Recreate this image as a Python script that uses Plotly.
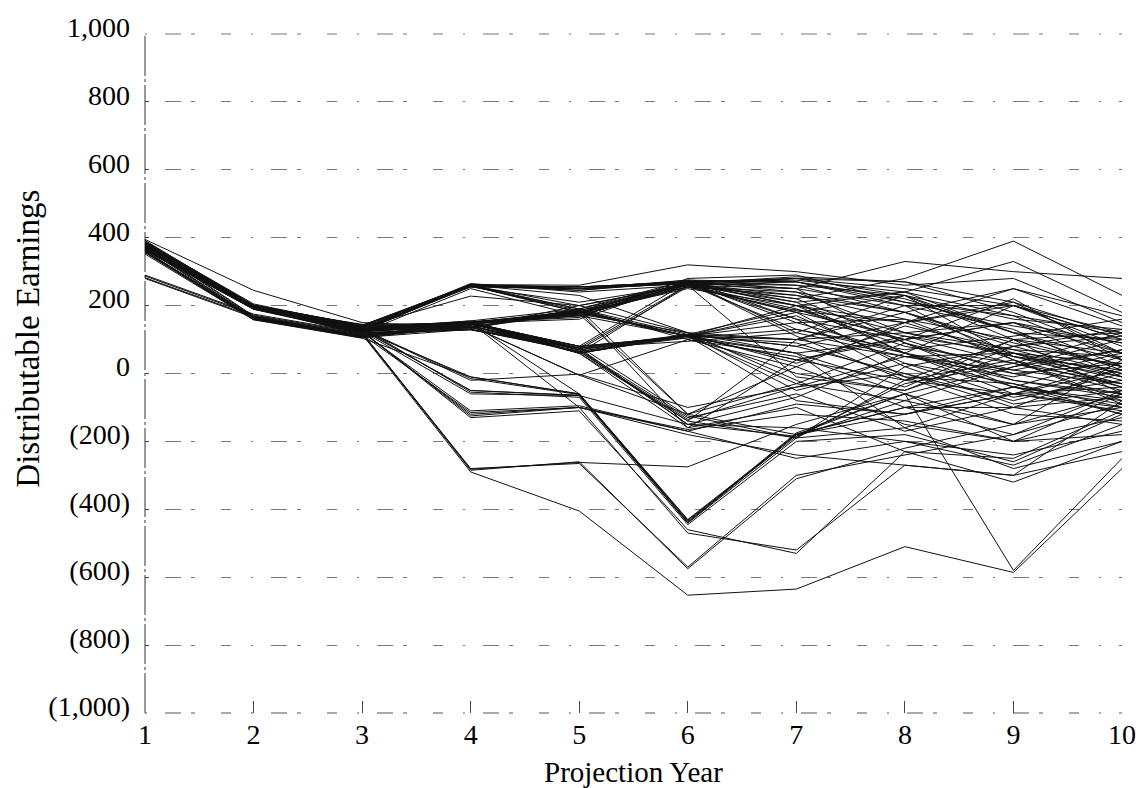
import plotly.graph_objects as go

years = [1, 2, 3, 4, 5, 6, 7, 8, 9, 10]

y_tickvals = [1000, 800, 600, 400, 200, 0, -200, -400, -600, -800, -1000]
y_ticktext = ["1,000", "800", "600", "400", "200", "0", "(200)", "(400)", "(600)", "(800)", "(1,000)"]

s01 = [370, 195, 130, 260, 255, 270, 280, 250, 200, 120]
s02 = [375, 195, 135, 260, 250, 265, 285, 270, 180, 60]
s03 = [380, 200, 140, 262, 245, 275, 260, 230, 120, 40]
s04 = [368, 192, 128, 255, 210, 260, 180, 110, 60, -20]
s05 = [372, 198, 125, 258, 180, 268, 200, 150, 50, 10]
s06 = [385, 200, 120, 250, 170, 110, 40, -20, -60, -100]
s07 = [378, 190, 132, 150, 165, 280, 290, 210, 140, 90]
s08 = [365, 196, 138, 152, 180, 270, 275, 240, 330, 180]
s09 = [370, 194, 145, 148, 185, 110, 180, 230, 100, 20]
s10 = [374, 198, 130, 145, 75, 260, 270, 200, 40, -40]
s11 = [380, 200, 128, 140, 70, 255, 240, 180, 80, 130]
s12 = [366, 193, 134, 155, 60, 115, 80, 150, 200, 100]
s13 = [371, 197, 124, 150, 80, 110, 0, -50, 60, 30]
s14 = [383, 201, 142, 135, 200, 120, 100, 50, -10, 60]
s15 = [287, 172, 118, 132, 190, -120, -180, -100, -40, 50]
s16 = [282, 168, 115, 130, 65, -140, -190, -20, 100, -60]
s17 = [290, 175, 120, 128, 75, -150, -185, -80, -150, -100]
s18 = [395, 245, 150, 135, 185, -160, 40, 100, 150, 20]
s19 = [376, 199, 126, -10, -60, -430, -180, -120, -40, -80]
s20 = [369, 196, 131, -15, -62, -435, -175, -60, -200, -130]
s21 = [373, 195, 128, -50, -65, -440, -190, 20, 80, 0]
s22 = [381, 199, 135, -55, -70, -445, -200, -180, -260, -120]
s23 = [367, 192, 122, -120, -100, -470, -520, -270, -300, -80]
s24 = [372, 194, 125, -130, -110, -460, -530, -230, -320, -200]
s25 = [375, 197, 120, -280, -265, -570, -300, -240, -180, -50]
s26 = [378, 195, 118, -285, -260, -575, -310, -220, -150, 40]
s27 = [370, 193, 115, -290, -405, -653, -635, -510, -586, -280]
s28 = [384, 200, 140, 150, -60, -440, -180, -60, -580, -250]
s29 = [379, 198, 133, 262, 260, 320, 300, 260, 280, 150]
s30 = [377, 199, 137, 228, 200, 262, 130, 60, -40, -90]
s31 = [368, 191, 127, 150, 170, 265, 220, 280, 390, 230]
s32 = [372, 196, 129, 148, 160, 270, 250, 330, 300, 280]
s33 = [381, 198, 141, 260, 180, 110, 100, 180, 250, 170]
s34 = [374, 195, 126, 145, 80, 105, 60, 100, 150, 90]
s35 = [366, 190, 123, 140, -5, 100, 20, -100, -100, 20]
s36 = [370, 194, 130, -20, -2, -100, -40, 50, 10, -30]
s37 = [376, 197, 134, 150, 70, -130, -60, -170, -100, -150]
s38 = [380, 200, 128, 260, 230, 120, -20, -150, -200, -180]
s39 = [368, 192, 124, 140, 60, -160, -100, -230, -250, -110]
s40 = [373, 196, 131, 135, 178, 250, 200, 120, 70, 50]
s41 = [371, 195, 132, 257, 190, 275, 270, 220, 120, 100]
s42 = [369, 193, 129, 152, 172, 255, 185, 150, 210, 110]
s43 = [382, 199, 139, 255, 250, 265, 200, 60, 0, -60]
s44 = [367, 191, 121, 130, 75, 95, 120, 230, 160, 130]
s45 = [375, 197, 133, 265, 240, 260, 280, 270, 210, 60]
s46 = [378, 198, 127, 150, 180, 110, 170, 30, -30, -120]
s47 = [372, 194, 126, 140, 65, 115, 100, 200, 200, 80]
s48 = [385, 201, 143, 145, 170, 260, -10, -50, 80, 110]
s49 = [364, 189, 119, 135, 190, 115, 80, 0, -80, 0]
s50 = [377, 198, 136, 150, 60, -140, 100, 120, 50, -10]
s51 = [374, 196, 131, 258, 185, 268, 150, 160, 100, 120]
s52 = [370, 195, 128, 150, 175, 120, 60, -160, -280, -200]
s53 = [376, 197, 124, -60, -65, -150, -160, -200, -240, -170]
s54 = [380, 199, 135, 150, 80, 270, 210, 60, -60, -40]
s55 = [368, 192, 127, 145, 180, 255, 230, 160, 40, -80]
s56 = [372, 196, 132, 260, 250, 265, 160, 100, 220, 40]
s57 = [379, 198, 129, 155, 190, 100, 50, -60, -150, -60]
s58 = [371, 195, 126, 260, 255, 270, 250, 200, 130, -10]
s59 = [369, 193, 130, 148, 70, 110, -30, -80, 20, 70]
s60 = [383, 199, 134, 150, 175, -120, 20, 150, 250, 140]
s61 = [366, 190, 122, -110, -95, -170, -90, -120, -60, 10]
s62 = [374, 196, 128, 148, 60, 115, 190, 100, 0, 30]
s63 = [373, 195, 125, -125, -100, -180, -240, -270, -300, -230]
s64 = [377, 197, 131, 150, -100, -170, -250, -200, -270, -150]
s65 = [371, 194, 120, -282, -262, -275, -150, -60, 20, 100]
s66 = [280, 165, 112, 150, 60, 260, 220, 90, -20, -60]
s67 = [362, 190, 128, 260, 255, 265, 230, 180, 90, 20]
s68 = [388, 205, 138, 150, 185, 260, 190, 80, 30, -30]
s69 = [356, 160, 110, 145, 75, 110, 150, 60, -20, -70]
s70 = [360, 162, 105, 140, 70, 115, 30, 140, 70, -10]
s71 = [392, 198, 142, 262, 250, 270, 240, 120, 150, 60]
s72 = [358, 165, 112, 150, 180, 270, 110, -20, 40, -90]
s73 = [366, 196, 130, 150, 80, 110, 200, 240, 120, 10]
s74 = [380, 168, 108, 140, -5, -120, -30, 90, -40, -120]
s75 = [372, 194, 126, 260, 190, 265, 260, 180, 60, -40]
s76 = [368, 163, 110, 135, 65, -135, -40, 0, -100, -70]
s77 = [384, 200, 136, 150, 178, 255, 180, 20, -90, -50]
s78 = [352, 158, 104, -10, -60, -432, -185, -30, 30, 120]
s79 = [376, 197, 129, -50, -64, -438, -178, -100, -180, -90]
s80 = [370, 166, 112, 150, 60, 110, 60, -40, 100, 60]
s81 = [378, 199, 133, 258, 245, 270, 270, 210, 170, 120]
s82 = [362, 161, 108, 148, 170, 260, 210, 240, 170, 40]
s83 = [386, 201, 140, 150, 75, 115, -50, 30, -70, -20]
s84 = [364, 192, 125, 145, 185, 110, 40, 110, 30, -50]
s85 = [374, 165, 111, 140, 70, -150, -70, 60, 200, 100]
s86 = [380, 197, 131, 262, 250, 275, 160, -10, -120, -140]
s87 = [357, 159, 106, 130, 65, 105, 130, 70, 110, 160]
s88 = [369, 195, 128, 152, 175, 265, 280, 230, 50, -30]
s89 = [390, 202, 141, 255, 255, 270, 120, 50, 60, 0]
s90 = [361, 164, 109, 145, 80, -125, -190, -160, -60, 30]
s91 = [375, 196, 127, 150, 60, 110, 90, -10, -30, -100]
s92 = [383, 170, 115, -115, -100, -165, -120, -140, -200, -60]
s93 = [367, 193, 124, 260, 200, 260, 250, 90, 10, 70]
s94 = [379, 198, 132, 148, 182, 110, -80, -120, -60, -110]

series = [s01, s02, s03, s04, s05, s06, s07, s08, s09, s10, s11, s12, s13, s14,
          s15, s16, s17, s18, s19, s20, s21, s22, s23, s24, s25, s26, s27, s28,
          s29, s30, s31, s32, s33, s34, s35, s36, s37, s38, s39, s40, s41, s42,
          s43, s44, s45, s46, s47, s48, s49, s50, s51, s52, s53, s54, s55, s56,
          s57, s58, s59, s60, s61, s62, s63, s64, s65, s66, s67, s68, s69, s70,
          s71, s72, s73, s74, s75, s76, s77, s78, s79, s80, s81, s82, s83, s84,
          s85, s86, s87, s88, s89, s90, s91, s92, s93, s94]

SERIF = "Liberation Serif, Times New Roman, serif"
GRID_DASH = "2px,18px,16px,10px,4px,26px,10px,20px"

fig = go.Figure()
for s in series:
    fig.add_trace(go.Scatter(x=years, y=s, mode="lines",
                             line=dict(color="#111111", width=1),
                             showlegend=False, hoverinfo="skip"))

shapes = [
    dict(type="line", xref="x domain", yref="y domain", x0=0, x1=0, y0=0, y1=1,
         line=dict(color="#333", width=1, dash="40px,3px,3px,3px"), layer="below"),
    dict(type="line", xref="x domain", yref="y domain", x0=0, x1=1, y0=1, y1=1,
         line=dict(color="#777", width=1, dash=GRID_DASH), layer="below"),
    dict(type="line", xref="x domain", yref="y domain", x0=0, x1=1, y0=0, y1=0,
         line=dict(color="#555", width=1, dash=GRID_DASH), layer="below"),
]

fig.update_layout(
    width=1148, height=788,
    margin=dict(l=145, r=18, t=32, b=75),
    paper_bgcolor="white", plot_bgcolor="white",
    font=dict(family=SERIF, size=28, color="black"),
    showlegend=False,
    shapes=shapes,
    xaxis=dict(range=[1, 10], tickvals=years, ticks="inside", ticklen=12,
               tickcolor="#444", tickwidth=1, showgrid=False, zeroline=False,
               showline=False, tickfont=dict(family=SERIF, size=28),
               ticklabelstandoff=2),
    yaxis=dict(range=[-1000, 1000], tickvals=y_tickvals, ticktext=y_ticktext,
               ticks="inside", ticklen=4, tickcolor="#444",
               showgrid=True, gridcolor="#777", gridwidth=1,
               griddash=GRID_DASH,
               zeroline=False, showline=False,
               tickfont=dict(family=SERIF, size=28), ticklabelstandoff=14,
               ticklabelshift=-7),
    annotations=[
        dict(text="Projection Year", xref="paper", yref="paper", x=0.5, y=-0.087,
             xanchor="center", yanchor="middle", showarrow=False,
             font=dict(family=SERIF, size=29)),
        dict(text="Distributable Earnings", xref="paper", yref="paper", x=-0.12, y=0.551,
             xanchor="center", yanchor="middle", textangle=-90, showarrow=False,
             font=dict(family=SERIF, size=33)),
    ],
)

fig.write_html("out.html")
